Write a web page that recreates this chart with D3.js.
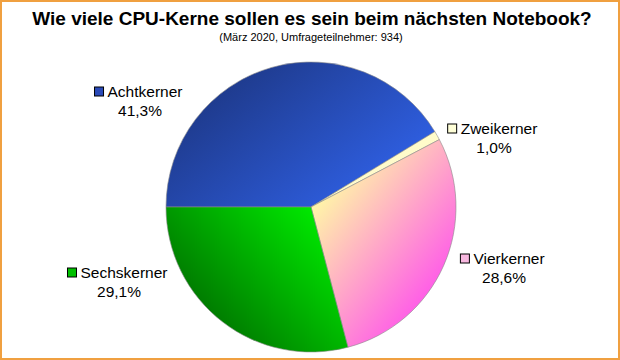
<!DOCTYPE html>
<html>
<head>
<meta charset="utf-8">
<script src="https://cdn.jsdelivr.net/npm/d3@7"></script>
<style>
  body { margin: 0; background: #fff; }
  svg { display: block; font-family: 'Liberation Sans', Arial, sans-serif; }
</style>
</head>
<body>
<div id="chart"></div>
<script>
const categories = ['Achtkerner', 'Zweikerner', 'Vierkerner', 'Sechskerner'];
const shares = [41.3, 1.0, 28.6, 29.1];
const valueLabels = ['41,3%', '1,0%', '28,6%', '29,1%'];

const title = 'Wie viele CPU-Kerne sollen es sein beim nächsten Notebook?';
const subtitle = '(März 2020, Umfrageteilnehmer: 934)';

// gradient stops per slice: [from, to, x1, y1, x2, y2] (fractions of pie box)
const fills = {
  Achtkerner: ['#1c3580', '#3164ee', 0.15, 0.0, 0.65, 0.62],
  Zweikerner: ['#ffffd8', '#fff8c0', 0, 0, 1, 1],
  Vierkerner: ['#fff4a8', '#ff48f0', 0.55, 0.45, 1, 0.8],
  Sechskerner: ['#00f800', '#006800', 0.6, 0.5, 0.1, 0.95]
};
const swatch = {
  Achtkerner: '#2a4ab8', Zweikerner: '#ffffd8', Vierkerner: '#f8b8e0', Sechskerner: '#00c000'
};
// label placement relative to pie centre
const labelPos = {
  Achtkerner: [-171, -110],
  Zweikerner: [183, -73],
  Vierkerner: [193, 57],
  Sechskerner: [-192, 71]
};

const W = 620, H = 360;
const cx = 311, cy = 207, R = 145;

const svg = d3.select('#chart').append('svg').attr('width', W).attr('height', H);

svg.append('rect').attr('x', 1).attr('y', 1).attr('width', W - 2).attr('height', H - 2)
  .attr('fill', '#fff').attr('stroke', '#f0a040').attr('stroke-width', 2);

svg.append('text').attr('x', 312).attr('y', 25).attr('text-anchor', 'middle')
  .attr('font-size', 19).attr('font-weight', 'bold').text(title);
svg.append('text').attr('x', 311).attr('y', 41).attr('text-anchor', 'middle')
  .attr('font-size', 11).text(subtitle);

const defs = svg.append('defs');
categories.forEach((c, i) => {
  const f = fills[c];
  const g = defs.append('linearGradient').attr('id', 'g' + i)
    .attr('gradientUnits', 'userSpaceOnUse')
    .attr('x1', -R + f[2] * 2 * R).attr('y1', -R + f[3] * 2 * R)
    .attr('x2', -R + f[4] * 2 * R).attr('y2', -R + f[5] * 2 * R);
  g.append('stop').attr('offset', 0).attr('stop-color', f[0]);
  g.append('stop').attr('offset', 1).attr('stop-color', f[1]);
});

const data = categories.map((c, i) => ({ name: c, value: shares[i], label: valueLabels[i], idx: i }));

const pie = d3.pie().value(d => d.value).sort(null)
  .startAngle(-Math.PI / 2).endAngle(1.5 * Math.PI);
const arc = d3.arc().innerRadius(0).outerRadius(R);

const g = svg.append('g').attr('transform', `translate(${cx},${cy})`);

g.selectAll('path')
  .data(pie(data))
  .join('path')
  .attr('d', arc)
  .attr('fill', d => `url(#g${d.data.idx})`)
  .attr('stroke', '#8a8a8a')
  .attr('stroke-width', 0.6);

// Labels
const lab = g.selectAll('.lab')
  .data(data)
  .join('g')
  .attr('class', 'lab')
  .attr('transform', d => `translate(${labelPos[d.name][0]},${labelPos[d.name][1]})`);

lab.each(function(d) {
  const sel = d3.select(this);
  const t = sel.append('text').attr('font-size', 15.5).attr('text-anchor', 'middle')
    .attr('x', 5).attr('y', 0).text(d.name);
  const w = t.node().getComputedTextLength();
  sel.append('rect')
    .attr('x', 5 - w / 2 - 13).attr('y', -10).attr('width', 9).attr('height', 9)
    .attr('fill', swatch[d.name]).attr('stroke', '#000').attr('stroke-width', 1);
  sel.append('text').attr('font-size', 15.5).attr('text-anchor', 'middle')
    .attr('x', 0).attr('y', 19).text(d.label);
});
</script>
</body>
</html>
